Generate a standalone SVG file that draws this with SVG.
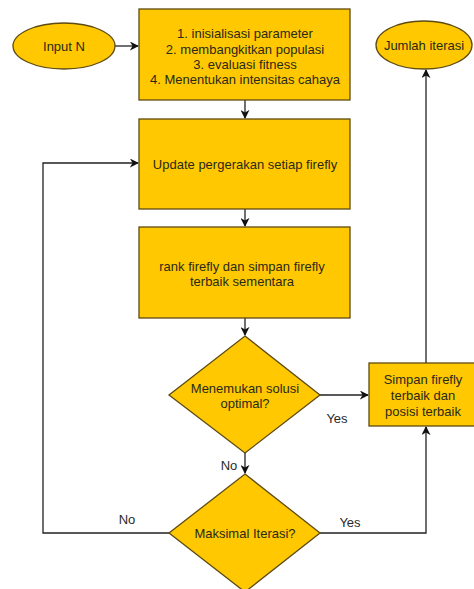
<svg xmlns="http://www.w3.org/2000/svg" width="474" height="589" viewBox="0 0 474 589">
<defs>
<style>
.n{fill:#FFC800;stroke:#5E4B10;stroke-width:1.3}
.t{font-family:"Liberation Sans",Arial,sans-serif;font-size:13px;fill:#2a2a1a;text-anchor:middle}
.l{font-family:"Liberation Sans",Arial,sans-serif;font-size:13px;fill:#2a2a2a;text-anchor:middle}
.c{fill:none;stroke:#222;stroke-width:1.3}
</style>
<marker id="a" viewBox="0 0 10 10" refX="9" refY="5" markerWidth="9" markerHeight="9" markerUnits="userSpaceOnUse" orient="auto">
<path d="M0,0 L10,5 L0,10 L3,5 Z" fill="#111"/>
</marker>
</defs>
<rect width="474" height="589" fill="#fff"/>
<g id="connectors">
<path class="c" d="M115,46 H138" marker-end="url(#a)"/>
<path class="c" d="M245,100 V118" marker-end="url(#a)"/>
<path class="c" d="M245,209 V226" marker-end="url(#a)"/>
<path class="c" d="M245,318 V335" marker-end="url(#a)"/>
<path class="c" d="M320,395 H368" marker-end="url(#a)"/>
<path class="c" d="M245,453 V473" marker-end="url(#a)"/>
<path class="c" d="M169,533 H43 V163 H138" marker-end="url(#a)"/>
<path class="c" d="M320,533 H426 V427" marker-end="url(#a)"/>
<path class="c" d="M426,363 V70" marker-end="url(#a)"/>
<text class="l" x="337" y="423">Yes</text>
<text class="l" x="229" y="470">No</text>
<text class="l" x="127" y="524">No</text>
<text class="l" x="350" y="527">Yes</text>
</g>
<g id="input">
<ellipse class="n" cx="64" cy="46" rx="51" ry="23"/>
<text class="t" x="64" y="51">Input N</text>
</g>
<g id="init">
<rect class="n" x="139" y="9" width="211" height="91"/>
<text class="t" x="245" y="38">1. inisialisasi parameter</text>
<text class="t" x="245" y="54">2. membangkitkan populasi</text>
<text class="t" x="245" y="69">3. evaluasi fitness</text>
<text class="t" x="245" y="84">4. Menentukan intensitas cahaya</text>
</g>
<g id="jumlah">
<ellipse class="n" cx="424" cy="45" rx="48" ry="24"/>
<text class="t" x="424" y="50">Jumlah iterasi</text>
</g>
<g id="update">
<rect class="n" x="139" y="119" width="211" height="90"/>
<text class="t" x="245" y="169">Update pergerakan setiap firefly</text>
</g>
<g id="rank">
<rect class="n" x="139" y="227" width="211" height="91"/>
<text class="t" x="242" y="271">rank firefly dan simpan firefly</text>
<text class="t" x="242" y="286">terbaik sementara</text>
</g>
<g id="solusi">
<polygon class="n" points="245,336 320,395 245,453 169,395"/>
<text class="t" x="245" y="393">Menemukan solusi</text>
<text class="t" x="245" y="408">optimal?</text>
</g>
<g id="simpan">
<rect class="n" x="369" y="363" width="106" height="63"/>
<text class="t" x="423" y="384">Simpan firefly</text>
<text class="t" x="423" y="400">terbaik dan</text>
<text class="t" x="423" y="416">posisi terbaik</text>
</g>
<g id="maksimal">
<polygon class="n" points="245,474 320,533 245,592 169,533"/>
<text class="t" x="245" y="538">Maksimal Iterasi?</text>
</g>
</svg>
